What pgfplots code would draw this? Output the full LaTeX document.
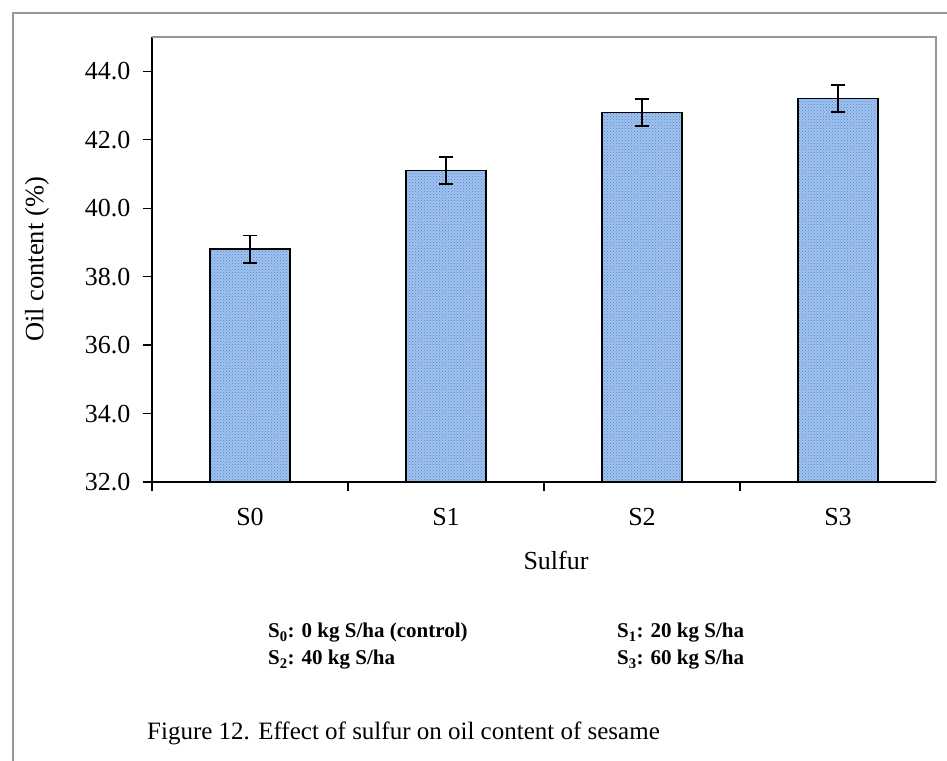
\documentclass[border=0pt]{standalone}
\usepackage{pgfplots}
\pgfplotsset{compat=1.18}
\usetikzlibrary{patterns}
\usepackage{fontspec}
\setmainfont{Liberation Serif}
\definecolor{barblue}{RGB}{160,195,238}
\definecolor{patblue}{RGB}{85,130,205}
\definecolor{framegray}{RGB}{150,150,150}

\begin{document}
\begin{tikzpicture}
\useasboundingbox (0,0) rectangle (947pt,-760pt);
\fill[white] (0,0) rectangle (947pt,-760pt);
% outer frame of the figure
\draw[framegray, line width=1.5pt] (13pt,-770pt) -- (13pt,-13pt) -- (960pt,-13pt);

\begin{axis}[
  at={(152pt,-482pt)}, anchor=south west,
  scale only axis, width=784pt, height=445pt,
  xmin=-0.5, xmax=3.5, ymin=32, ymax=45,
  axis x line*=bottom, axis y line*=left,
  axis line style={black, line width=1.5pt, -},
  tick align=outside,
  tick style={black, line width=1.2pt},
  major tick length=9pt, minor tick length=9pt,
  xtick={0,1,2,3},
  xticklabels={S0,S1,S2,S3},
  major x tick style={draw=none},
  minor xtick={-0.5,0.5,1.5,2.5},
  ytick={32,34,36,38,40,42,44},
  yticklabels={32.0,34.0,36.0,38.0,40.0,42.0,44.0},
  ticklabel style={font=\fontsize{26}{31}\selectfont},
  xticklabel style={yshift=-14pt},
  yticklabel style={xshift=-9pt},
  ylabel={Oil content (\%)},
  every axis y label/.style={at={(axis description cs:0,0.5)}, rotate=90,
    anchor=center, yshift=115pt, font=\fontsize{26.5}{31}\selectfont},
  xlabel={Sulfur},
  every axis x label/.style={at={(axis description cs:0.5,0)},
    anchor=center, xshift=12pt, yshift=-78pt, font=\fontsize{26}{31}\selectfont},
  clip=false,
]
\addplot[
  ybar, bar width=0.41,
  draw=black, line width=1.5pt,
  fill=barblue,
  postaction={pattern=crosshatch dots, pattern color=patblue},
  error bars/.cd, y dir=both, y explicit,
  error bar style={black, line width=1.8pt},
  error mark options={rotate=90, mark size=7pt, line width=1.8pt, black},
] table[x=x, y=y, y error=e] {
x y    e
0 38.8 0.4
1 41.1 0.4
2 42.8 0.4
3 43.2 0.4
};
% plot-area border on top and right
\draw[framegray, line width=1.2pt] (rel axis cs:0,1) -- (rel axis cs:1,1) -- (rel axis cs:1,0);
\end{axis}

% key to the sulfur levels
\begin{scope}[every node/.style={anchor=west, inner sep=0pt, font=\bfseries\fontsize{21}{25}\selectfont}]
\node at (268pt,-633pt) {S\textsubscript{0}: 0 kg S/ha (control)};
\node at (617pt,-633pt) {S\textsubscript{1}: 20 kg S/ha};
\node at (268pt,-660pt) {S\textsubscript{2}: 40 kg S/ha};
\node at (617pt,-660pt) {S\textsubscript{3}: 60 kg S/ha};
\end{scope}
\node[anchor=west, inner sep=0pt, font=\fontsize{25}{30}\selectfont] at (147pt,-733pt)
  {Figure 12. Effect of sulfur on oil content of sesame};
\end{tikzpicture}
\end{document}
